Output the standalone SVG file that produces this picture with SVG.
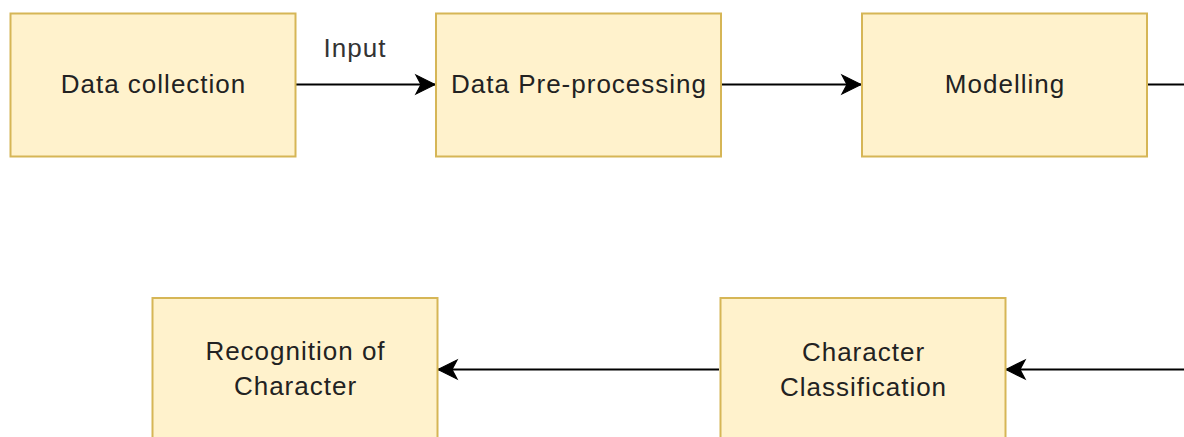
<svg xmlns="http://www.w3.org/2000/svg" width="1184" height="437" viewBox="0 0 1184 437">
  <style>
    .box { fill: #fff2cc; stroke: #d6b656; stroke-width: 2; }
    .lbl { font-family: "Liberation Sans", Arial, Helvetica, sans-serif; font-size: 26px; letter-spacing: 1px; fill: #222; text-anchor: middle; }
    .edge { fill: none; stroke: #000; stroke-width: 2; }
    .elbl { font-family: "Liberation Sans", Arial, Helvetica, sans-serif; font-size: 26px; letter-spacing: 1px; fill: #333; text-anchor: middle; }
  </style>
  <defs>
    <marker id="arrow" markerUnits="userSpaceOnUse" markerWidth="24" markerHeight="24" viewBox="-21 -12 24 24" refX="0" refY="0" orient="auto">
      <path d="M0,0 L-19,-9.5 L-14,0 L-19,9.5 Z" fill="#000" stroke="#000" stroke-width="1.2" stroke-linejoin="miter"/>
    </marker>
  </defs>
  <rect width="1184" height="437" fill="#ffffff"/>

  <!-- connectors -->
  <g id="connectors">
    <path class="edge" d="M296,84.5 L435,84.5" marker-end="url(#arrow)"/>
    <text class="elbl" x="355" y="56.5">Input</text>
    <path class="edge" d="M722,84.5 L861,84.5" marker-end="url(#arrow)"/>
    <path class="edge" d="M1148,84.5 L1184,84.5"/>
    <path class="edge" d="M1184,369.5 L1006,369.5" marker-end="url(#arrow)"/>
    <path class="edge" d="M719,369.5 L438,369.5" marker-end="url(#arrow)"/>
  </g>

  <!-- nodes -->
  <g id="data-collection">
    <rect class="box" x="10.5" y="13.5" width="285" height="143"/>
    <text class="lbl" x="153.5" y="93">Data collection</text>
  </g>
  <g id="data-preprocessing">
    <rect class="box" x="436" y="13.5" width="285" height="143"/>
    <text class="lbl" x="579" y="93">Data Pre-processing</text>
  </g>
  <g id="modelling">
    <rect class="box" x="862" y="13.5" width="285" height="143"/>
    <text class="lbl" x="1005" y="93">Modelling</text>
  </g>
  <g id="character-classification">
    <rect class="box" x="720.5" y="298" width="285" height="143"/>
    <text class="lbl" x="863.5" y="361">Character</text>
    <text class="lbl" x="863.5" y="396">Classification</text>
  </g>
  <g id="recognition-of-character">
    <rect class="box" x="152.5" y="298" width="285" height="143"/>
    <text class="lbl" x="295.5" y="360">Recognition of</text>
    <text class="lbl" x="295.5" y="395">Character</text>
  </g>
</svg>
